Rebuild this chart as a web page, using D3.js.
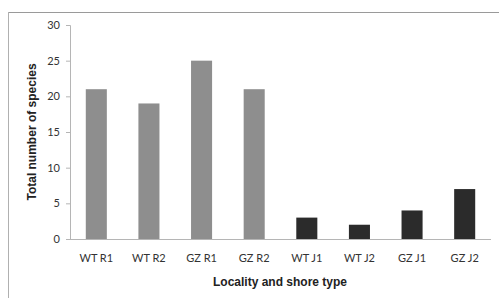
<!DOCTYPE html>
<html>
<head>
<meta charset="utf-8">
<script src="https://cdn.jsdelivr.net/npm/d3@7"></script>
<style>
  body { margin: 0; background: #fff; }
  svg { display: block; }
</style>
</head>
<body>
<div class="chart"></div>
<script>
const categories = ['WT R1', 'WT R2', 'GZ R1', 'GZ R2', 'WT J1', 'WT J2', 'GZ J1', 'GZ J2']
const species = [21, 19, 25, 21, 3, 2, 4, 7]
const shore = ['R', 'R', 'R', 'R', 'J', 'J', 'J', 'J']
const yTicks = [0, 5, 10, 15, 20, 25, 30]

const data = categories.map((c, i) => ({cat: c, value: species[i], type: shore[i]}))

const width = 499, height = 298
const margin = ({top: 25, right: 8, bottom: 59, left: 70})

const svg = d3.select('.chart').append('svg')
    .attr('width', width)
    .attr('height', height)

// outer frame of the chart area
svg.append('line')
    .attr('x1', 8).attr('x2', width).attr('y1', 12.5).attr('y2', 12.5)
    .attr('stroke', '#9a9a9a').attr('stroke-width', 1)
svg.append('line')
    .attr('x1', 8.5).attr('x2', 8.5).attr('y1', 12).attr('y2', height)
    .attr('stroke', '#b0b0b0').attr('stroke-width', 1)

const xScale = d3.scaleBand()
    .domain(categories)
    .range([margin.left, 491])
    .paddingInner(0.6)
    .paddingOuter(0.3)

const yScale = d3.scaleLinear()
    .domain([0, 30])
    .range([239, margin.top])

const colour = {R: '#8e8e8e', J: '#2b2b2b'}

svg.selectAll('.bar')
    .data(data)
    .enter()
    .append('rect')
    .attr('class', 'bar')
    .attr('x', d => xScale(d.cat))
    .attr('y', d => yScale(d.value))
    .attr('width', xScale.bandwidth())
    .attr('height', d => yScale(0) - yScale(d.value))
    .attr('fill', d => colour[d.type])

// y axis
const yAxis = svg.append('g')
    .attr('transform', `translate(${margin.left},0)`)
    .call(d3.axisLeft(yScale).tickValues(yTicks).tickSize(4).tickPadding(6))
yAxis.select('.domain').attr('stroke', '#b5b5b5')
yAxis.selectAll('.tick line').attr('stroke', '#b5b5b5')
yAxis.selectAll('.tick text')
    .attr('font-family', 'Lato, "Open Sans", sans-serif')
    .attr('font-size', 11)
    .attr('fill', '#333')

// x axis
const xAxis = svg.append('g')
    .attr('transform', `translate(0,${yScale(0)})`)
    .call(d3.axisBottom(xScale).tickSize(0).tickPadding(15))
xAxis.select('.domain').attr('stroke', '#b5b5b5').attr('d', `M${margin.left},0.5H491`)
xAxis.selectAll('.tick text')
    .attr('font-family', 'Lato, "Open Sans", sans-serif')
    .attr('font-size', 11)
    .attr('fill', '#333')

svg.append('text')
    .text('Locality and shore type')
    .attr('x', 280)
    .attr('y', 286)
    .attr('text-anchor', 'middle')
    .attr('font-family', '"Liberation Sans", Arial, sans-serif')
    .attr('font-weight', 'bold')
    .attr('font-size', 12)
    .attr('fill', '#222')

svg.append('text')
    .text('Total number of species')
    .attr('transform', 'translate(36,132) rotate(-90)')
    .attr('text-anchor', 'middle')
    .attr('font-family', '"Liberation Sans", Arial, sans-serif')
    .attr('font-weight', 'bold')
    .attr('font-size', 12)
    .attr('fill', '#222')
</script>
</body>
</html>
